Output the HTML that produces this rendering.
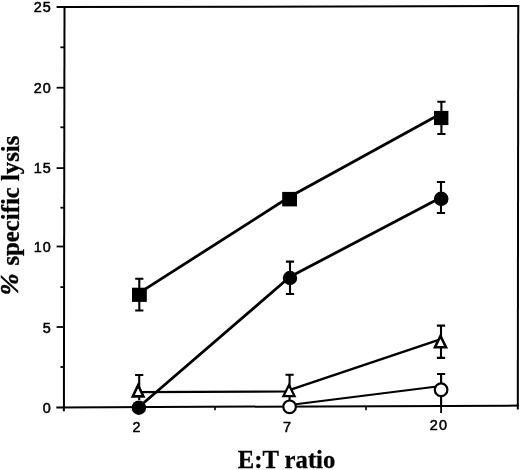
<!DOCTYPE html><html><head><meta charset="utf-8"><title>E:T ratio</title>
<style>html,body{margin:0;padding:0;background:#fff}svg{display:block}.t{font-family:"Liberation Sans",sans-serif;font-size:14px;fill:#000;stroke:#000;stroke-width:.5px}.b{font-family:"Liberation Serif",serif;font-weight:bold;font-size:24.5px;fill:#000;stroke:#000;stroke-width:.3px}</style></head><body>
<svg width="520" height="470" viewBox="0 0 520 470">
<rect width="520" height="470" fill="#fff"/>
<g stroke="#000" stroke-width="2" fill="none">
<path d="M56.6 7.1 L519.2 6.1"/>
<path d="M64.5 6.2 L63.9 411.3"/>
<path d="M518.25 5.4 L517.8 409.6"/>
<path stroke-width="2.0" d="M56.3 407.4 L518.6 405.6"/>
</g>
<g stroke="#000" stroke-width="1.8" fill="none">
<path d="M56.6 327.0 H64"/>
<path d="M56.6 246.5 H64"/>
<path d="M56.6 168.1 H64"/>
<path d="M56.6 87.7 H64"/>
<path d="M60.4 367.0 H64"/>
<path d="M60.4 287.1 H64"/>
<path d="M60.4 207.7 H64"/>
<path d="M60.4 127.3 H64"/>
<path d="M60.4 47.3 H64"/>
<path d="M139.2 407.1 V413.0"/>
<path d="M289.8 406.5 V413.0"/>
<path d="M441.1 405.9 V413.0"/>
<path stroke-width="1.6" d="M215.0 406.8 V410.3"/>
<path stroke-width="1.6" d="M366.0 406.2 V410.3"/>
</g>
<text class="t" text-anchor="end" letter-spacing="1" transform="translate(51.85 412.9) scale(1.03 1)">0</text>
<text class="t" text-anchor="end" letter-spacing="1" transform="translate(51.85 332.6) scale(1.03 1)">5</text>
<text class="t" text-anchor="end" letter-spacing="1" transform="translate(51.85 252.3) scale(1.03 1)">10</text>
<text class="t" text-anchor="end" letter-spacing="1" transform="translate(51.85 173.4) scale(1.03 1)">15</text>
<text class="t" text-anchor="end" letter-spacing="1" transform="translate(51.85 93.2) scale(1.03 1)">20</text>
<text class="t" text-anchor="end" letter-spacing="1" transform="translate(51.85 12.0) scale(1.03 1)">25</text>
<text class="t" text-anchor="middle" transform="translate(137.0 432.3) scale(1.03 1)" letter-spacing="1">2</text>
<text class="t" text-anchor="middle" transform="translate(287.4 431.5) scale(1.03 1)" letter-spacing="1">7</text>
<text class="t" text-anchor="middle" transform="translate(438.9 430.3) scale(1.03 1)" letter-spacing="1">20</text>
<polyline fill="none" stroke="#000" stroke-width="2.8" stroke-linejoin="round" points="139.3,292.9 289.7,196.8 441.2,113.5"/>
<polyline fill="none" stroke="#000" stroke-width="2.8" stroke-linejoin="round" points="138.9,407.0 290.0,276.8 441.0,197.6"/>
<polyline fill="none" stroke="#000" stroke-width="2.1" stroke-linejoin="round" points="138.0,392.1 290.0,391.5"/>
<polyline fill="none" stroke="#000" stroke-width="2.4" stroke-linejoin="round" points="290.0,389.8 441.0,339.2"/>
<polyline fill="none" stroke="#000" stroke-width="2.0" stroke-linejoin="round" points="289.6,405.1 441.0,385.9"/>
<path stroke="#000" stroke-width="2.1" fill="none" d="M139.3 278.8 V310.5 M135.2 278.8 h8.2 M135.2 310.5 h8.2"/>
<path stroke="#000" stroke-width="2.1" fill="none" d="M441.4 101.7 V134.0 M437.3 101.7 h8.2 M437.3 134.0 h8.2"/>
<path stroke="#000" stroke-width="2.1" fill="none" d="M290.0 261.6 V294.0 M285.9 261.6 h8.2 M285.9 294.0 h8.2"/>
<path stroke="#000" stroke-width="2.1" fill="none" d="M441.0 182.0 V213.0 M436.9 182.0 h8.2 M436.9 213.0 h8.2"/>
<path stroke="#000" stroke-width="2.1" fill="none" d="M139.2 375.0 V400.0 M135.1 375.0 h8.2"/>
<path stroke="#000" stroke-width="2.1" fill="none" d="M289.6 374.7 V400.0 M285.5 374.7 h8.2"/>
<path stroke="#000" stroke-width="2.1" fill="none" d="M441.0 325.6 V357.9 M436.9 325.6 h8.2 M436.9 357.9 h8.2"/>
<path stroke="#000" stroke-width="2.1" fill="none" d="M441.1 374.0 V406.0 M437.0 374.0 h8.2"/>
<rect x="132.0" y="287.7" width="14.8" height="14.2" fill="#000"/>
<rect x="282.2" y="191.9" width="14.8" height="14.5" fill="#000"/>
<rect x="434.0" y="110.9" width="14.4" height="14.2" fill="#000"/>
<circle cx="138.9" cy="407.7" r="7.2" fill="#000"/>
<circle cx="290.0" cy="278.0" r="7.2" fill="#000"/>
<circle cx="441.2" cy="198.8" r="7.3" fill="#000"/>
<path d="M138.1 385.30 L143.43 396.40 L132.77 396.40 Z" fill="#fff" stroke="#000" stroke-width="2.6" stroke-linejoin="miter" stroke-miterlimit="10"/>
<path d="M289.0 384.97 L294.54 396.05 L283.46 396.05 Z" fill="#fff" stroke="#000" stroke-width="2.3" stroke-linejoin="miter" stroke-miterlimit="10"/>
<path d="M440.5 335.95 L446.01 347.20 L434.99 347.20 Z" fill="#fff" stroke="#000" stroke-width="2.6" stroke-linejoin="miter" stroke-miterlimit="10"/>
<circle cx="289.6" cy="406.8" r="6.30" fill="#fff" stroke="#000" stroke-width="2.2"/>
<circle cx="441.1" cy="389.7" r="6.30" fill="#fff" stroke="#000" stroke-width="2.2"/>
<text class="b" x="237.8" y="468.3" textLength="97.5" lengthAdjust="spacingAndGlyphs">E:T ratio</text>
<g transform="translate(19 294.3) rotate(-90)">
<text class="b" x="-1.0" y="-0.6" font-style="italic" style="font-size:26.2px;stroke-width:.5px">%</text>
<text class="b" x="28.8" y="0" textLength="129.8" lengthAdjust="spacingAndGlyphs">specific lysis</text>
</g>
</svg></body></html>
